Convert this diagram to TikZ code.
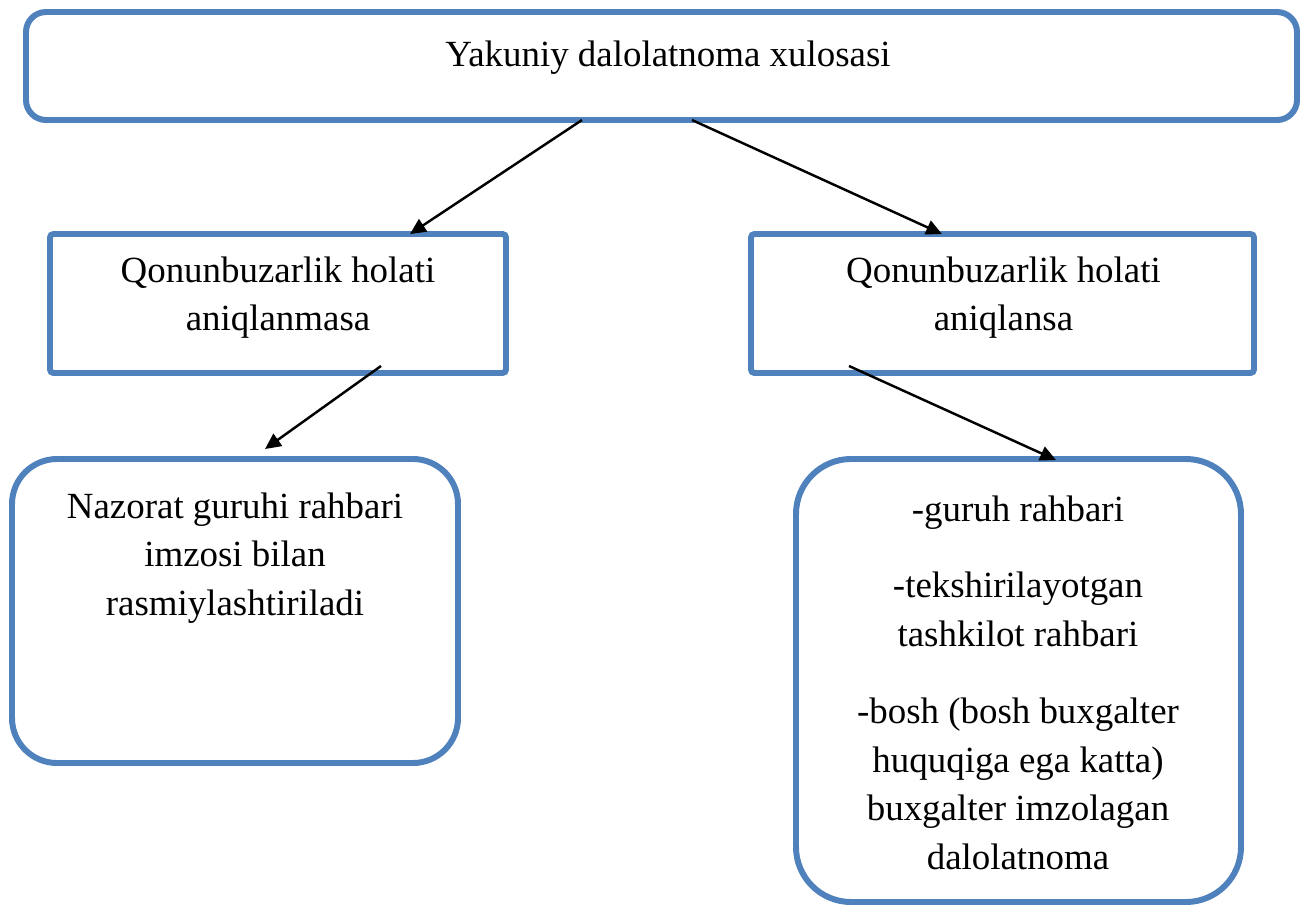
\documentclass[tikz,border=0pt]{standalone}
\usepackage{fontspec}
\setmainfont{Liberation Serif}
\usetikzlibrary{arrows.meta}
\definecolor{boxblue}{RGB}{79,129,189}

\begin{document}
\begin{tikzpicture}[line width=0.7pt,>={Triangle[length=4.5pt,width=4.2pt]},
  font=\fontsize{10.5}{13.9}\selectfont,
  bluebox/.style={draw=boxblue,line width=1.7pt,outer sep=0pt,inner sep=0pt},
  boxtext/.style={anchor=north,align=center,inner sep=0pt}]
\useasboundingbox (0,0) rectangle (13.01,9.05);
% ---------- top ----------
\node[bluebox,rounded corners=0.2cm,minimum width=12.71cm,minimum height=1.08cm] (top) at (6.615,8.39) {};
\node[boxtext] (ttop) at (6.68,8.743) {\strut Yakuniy dalolatnoma xulosasi};
% ---------- middle ----------
\node[bluebox,rounded corners=1pt,minimum width=4.56cm,minimum height=1.39cm] (lmid) at (2.78,6.015) {};
\node[bluebox,rounded corners=1pt,minimum width=5.03cm,minimum height=1.39cm] (rmid) at (10.025,6.015) {};
\node[boxtext] (tlmid) at (2.78,6.583) {\strut Qonunbuzarlik holati\\aniqlanmasa};
\node[boxtext] (trmid) at (10.035,6.583) {\strut Qonunbuzarlik holati\\aniqlansa};
% ---------- bottom ----------
\node[bluebox,rounded corners=0.45cm,minimum width=4.46cm,minimum height=3.04cm] (lbot) at (2.35,2.94) {};
\node[bluebox,rounded corners=0.55cm,minimum width=4.45cm,minimum height=4.43cm] (rbot) at (10.185,2.245) {};
\node[boxtext] (tlbot) at (2.35,4.223) {\strut Nazorat guruhi rahbari\\imzosi bilan\\rasmiylashtiriladi};
\node[boxtext] (trbot) at (10.18,4.193) {\strut -guruh rahbari\\[7.9pt]
  -tekshirilayotgan\\tashkilot rahbari\\[7.9pt]
  -bosh (bosh buxgalter\\huquqiga ega katta)\\buxgalter imzolagan\\dalolatnoma};
% ---------- arrows ----------
\draw[->] ([xshift=-0.795cm]top.south) -- ([xshift=1.32cm]lmid.north);
\draw[->] ([xshift=0.305cm]top.south) -- ([xshift=-0.605cm]rmid.north);
\draw[->] ([xshift=1.03cm,yshift=0.07cm]lmid.south) -- ([xshift=0.30cm,yshift=0.10cm]lbot.north);
\draw[->] ([xshift=-1.535cm,yshift=0.07cm]rmid.south) -- ([xshift=0.375cm,yshift=-0.01cm]rbot.north);
\end{tikzpicture}
\end{document}
